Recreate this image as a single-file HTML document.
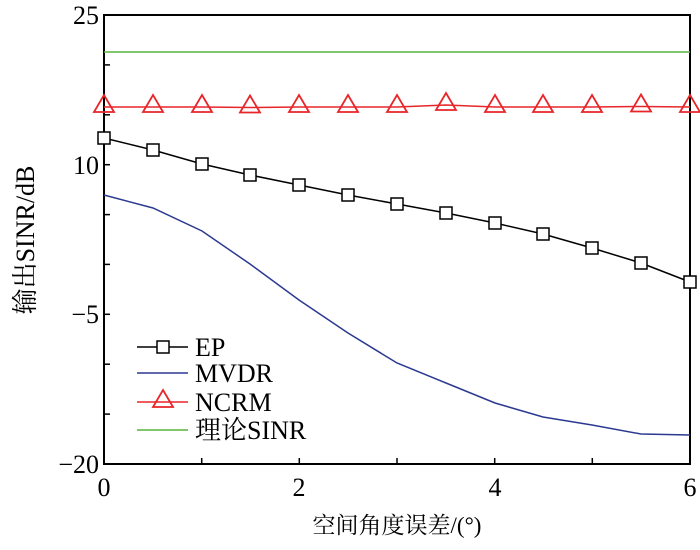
<!DOCTYPE html><html><head><style>body{margin:0;background:#fff}</style></head><body>
<svg width="700" height="545" xmlns="http://www.w3.org/2000/svg" font-family="Liberation Serif, Noto Serif CJK SC, serif">
<rect x="104" y="15" width="586" height="449" fill="none" stroke="#000" stroke-width="2"/>
<g stroke="#000" stroke-width="1.5">
<line x1="104" y1="64.9" x2="110" y2="64.9"/><line x1="104" y1="114.8" x2="110" y2="114.8"/><line x1="104" y1="164.7" x2="110" y2="164.7"/><line x1="104" y1="214.6" x2="110" y2="214.6"/><line x1="104" y1="264.4" x2="110" y2="264.4"/><line x1="104" y1="314.3" x2="110" y2="314.3"/><line x1="104" y1="364.2" x2="110" y2="364.2"/><line x1="104" y1="414.1" x2="110" y2="414.1"/>
<line x1="201.7" y1="464" x2="201.7" y2="458"/><line x1="299.3" y1="464" x2="299.3" y2="458"/><line x1="397" y1="464" x2="397" y2="458"/><line x1="494.7" y1="464" x2="494.7" y2="458"/><line x1="592.3" y1="464" x2="592.3" y2="458"/>
</g>
<g font-size="26" text-anchor="end"><text x="99" y="24">25</text><text x="99" y="174">10</text><text x="99" y="323">−5</text><text x="99" y="473">−20</text></g>
<g font-size="26" text-anchor="middle"><text x="104" y="496">0</text><text x="299" y="496">2</text><text x="495" y="496">4</text><text x="690" y="496">6</text></g>
<text x="397" y="533" font-size="23" text-anchor="middle">空间角度误差/(°)</text>
<text transform="translate(34,240) rotate(-90)" font-size="26" text-anchor="middle">输出SINR/dB</text>
<line x1="104" y1="52" x2="690" y2="52" stroke="#5ab23a" stroke-width="1.5"/>
<polyline fill="none" stroke="#e8262a" stroke-width="1.5" points="104,107 153,107 202,107 250,107.5 299,107 348,107 397,107 446,105 495,107 543,107 592,107 641,106.5 690,107"/>
<g fill="none" stroke="#e8262a" stroke-width="1.8">
<path d="M0,-10 L10,7 L-10,7 Z" transform="translate(104,105)"/><path d="M0,-10 L10,7 L-10,7 Z" transform="translate(153,105)"/><path d="M0,-10 L10,7 L-10,7 Z" transform="translate(202,105)"/><path d="M0,-10 L10,7 L-10,7 Z" transform="translate(250,105.5)"/><path d="M0,-10 L10,7 L-10,7 Z" transform="translate(299,105)"/><path d="M0,-10 L10,7 L-10,7 Z" transform="translate(348,105)"/><path d="M0,-10 L10,7 L-10,7 Z" transform="translate(397,105)"/><path d="M0,-10 L10,7 L-10,7 Z" transform="translate(446,103)"/><path d="M0,-10 L10,7 L-10,7 Z" transform="translate(495,105)"/><path d="M0,-10 L10,7 L-10,7 Z" transform="translate(543,105)"/><path d="M0,-10 L10,7 L-10,7 Z" transform="translate(592,105)"/><path d="M0,-10 L10,7 L-10,7 Z" transform="translate(641,104.5)"/><path d="M0,-10 L10,7 L-10,7 Z" transform="translate(690,105)"/></g>
<polyline fill="none" stroke="#2b3990" stroke-width="1.5" points="104,195 153,208 202,231 250,264 299,300 348,333 397,363 446,383 495,403 543,417 592,425 641,434 690,435"/>
<polyline fill="none" stroke="#000" stroke-width="1.5" points="104,138 153,150 202,164 250,175 299,185 348,195 397,204 446,213 495,223 543,234 592,248 641,263 690,282"/>
<g fill="#fff" stroke="#000" stroke-width="1.5">
<rect x="98" y="132" width="12" height="12"/><rect x="147" y="144" width="12" height="12"/><rect x="196" y="158" width="12" height="12"/><rect x="244" y="169" width="12" height="12"/><rect x="293" y="179" width="12" height="12"/><rect x="342" y="189" width="12" height="12"/><rect x="391" y="198" width="12" height="12"/><rect x="440" y="207" width="12" height="12"/><rect x="489" y="217" width="12" height="12"/><rect x="537" y="228" width="12" height="12"/><rect x="586" y="242" width="12" height="12"/><rect x="635" y="257" width="12" height="12"/><rect x="684" y="276" width="12" height="12"/>
</g>
<line x1="137" y1="347" x2="188" y2="347" stroke="#000" stroke-width="1.5"/><rect x="157" y="341" width="12" height="12" fill="#fff" stroke="#000" stroke-width="1.5"/>
<line x1="137" y1="373" x2="188" y2="373" stroke="#2b3990" stroke-width="1.5"/>
<line x1="137" y1="402" x2="188" y2="402" stroke="#e8262a" stroke-width="1.5"/><path d="M0,-10 L10,7 L-10,7 Z" transform="translate(163,400)" fill="none" stroke="#e8262a" stroke-width="1.8"/>
<line x1="137" y1="430" x2="188" y2="430" stroke="#5ab23a" stroke-width="1.5"/>
<g font-size="26"><text x="195" y="356">EP</text><text x="195" y="382">MVDR</text><text x="195" y="411">NCRM</text><text x="195" y="439">理论SINR</text></g>
</svg></body></html>
